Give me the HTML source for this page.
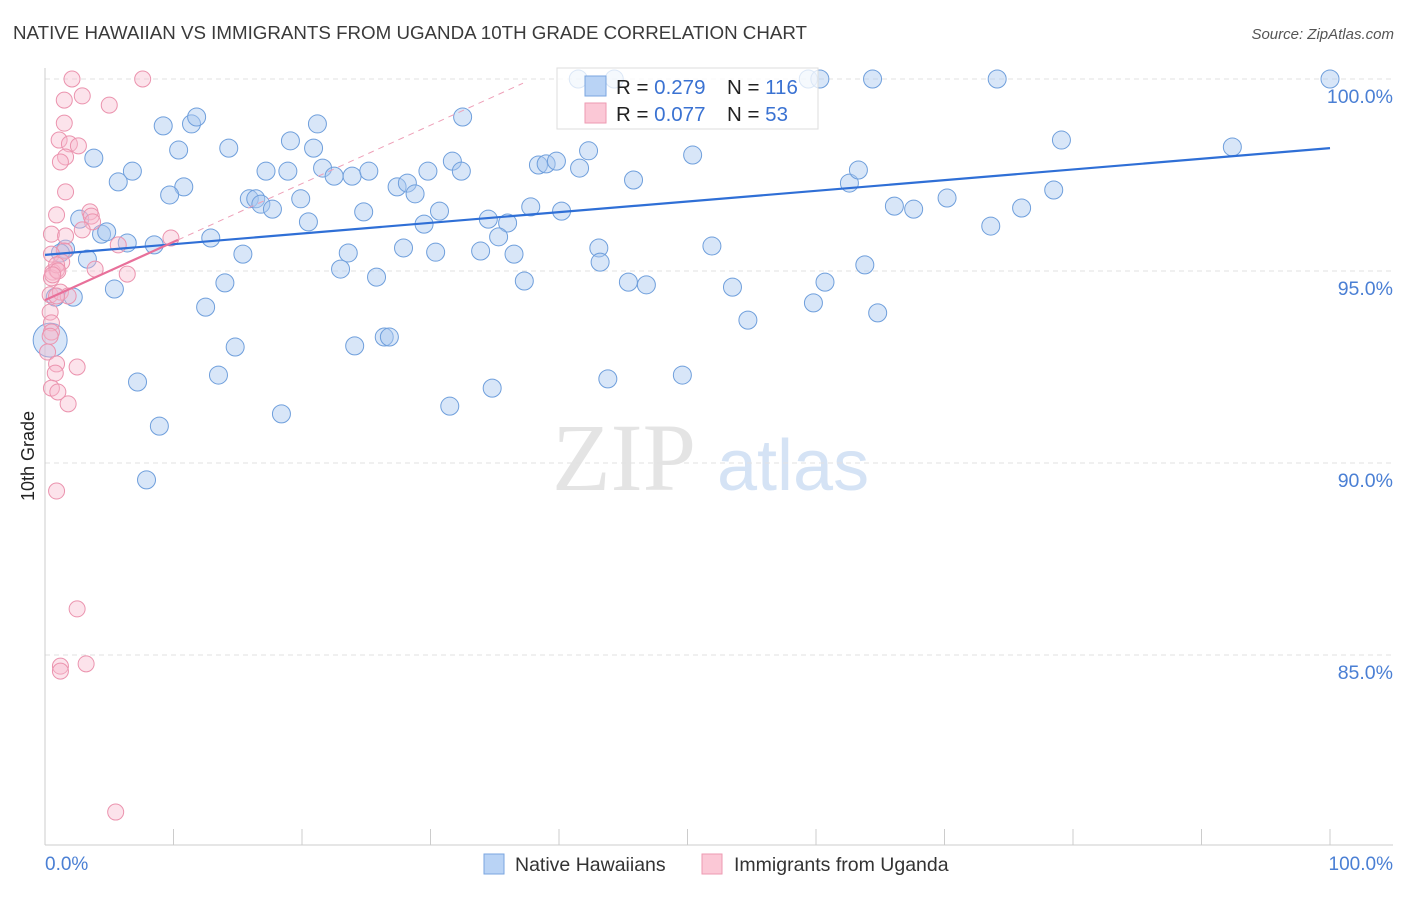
<!DOCTYPE html>
<html><head><meta charset="utf-8"><style>
body{margin:0;background:#fff;font-family:"Liberation Sans",sans-serif}
</style></head><body>
<svg id="chart" width="1406" height="892" xmlns="http://www.w3.org/2000/svg" style="font-family:'Liberation Sans',sans-serif">
<text x="13" y="39" font-size="18" fill="#3a3a3a" textLength="794" lengthAdjust="spacingAndGlyphs">NATIVE HAWAIIAN VS IMMIGRANTS FROM UGANDA 10TH GRADE CORRELATION CHART</text>
<text x="1394" y="39" font-size="15" fill="#555" font-style="italic" text-anchor="end">Source: ZipAtlas.com</text>
<g>
<text x="552" y="490" font-size="96" fill="#e4e4e4" font-family="'Liberation Serif',serif">ZIP</text>
<text x="717" y="490" font-size="72" fill="#d5e3f5">atlas</text>
</g>
<g id="grid"></g>
<g id="axes"></g>
<g id="pts"></g>
<g id="trend"></g>
<g>
<rect x="557" y="68" width="261" height="61" fill="#fff" fill-opacity="0.75" stroke="#ddd"/>
<rect x="585" y="76" width="21" height="20" fill="#b9d3f5" stroke="#7aa6e0"/>
<text x="616" y="94" font-size="20.5" fill="#222">R = <tspan fill="#3a72d2">0.279</tspan></text>
<text x="727" y="94" font-size="20.5" fill="#222">N = <tspan fill="#3a72d2">116</tspan></text>
<rect x="585" y="103" width="21" height="20" fill="#fbc8d6" stroke="#ee9ab2"/>
<text x="616" y="121" font-size="20.5" fill="#222">R = <tspan fill="#3a72d2">0.077</tspan></text>
<text x="727" y="121" font-size="20.5" fill="#222">N = <tspan fill="#3a72d2"> 53</tspan></text>
</g>
<g>
<rect x="484" y="854" width="20" height="20" fill="#b9d3f5" stroke="#7aa6e0"/>
<text x="515" y="871" font-size="19.5" fill="#333">Native Hawaiians</text>
<rect x="702" y="854" width="20" height="20" fill="#fbc8d6" stroke="#ee9ab2"/>
<text x="734" y="871" font-size="19.5" fill="#333">Immigrants from Uganda</text>
</g>
<text transform="translate(34,456) rotate(-90)" font-size="18" fill="#222" text-anchor="middle">10th Grade</text>
</svg>
<script>
const blueX=[41.5,44.3,59.4,60.3,64.4,74.1,100,9.2,11.4,11.8,32.5,21.2,3.8,10.4,14.3,19.1,20.9,79.1,92.4,42.3,50.4,6.8,5.7,10.8,9.7,17.2,18.9,21.6,22.5,23.9,25.2,27.4,28.2,28.8,29.8,31.7,32.4,38.4,39.0,39.8,41.6,45.8,62.6,63.3,78.5,15.9,16.4,16.8,17.7,19.9,20.5,24.8,29.5,30.7,34.5,36.0,37.8,40.2,66.1,67.6,70.2,73.6,76.0,2.7,4.4,4.8,6.4,8.5,12.9,15.4,35.3,23.6,27.9,30.4,33.9,36.5,43.1,51.9,1.6,1.2,3.3,23.0,25.8,43.2,63.8,14.0,5.4,0.8,2.2,12.5,37.3,45.4,46.8,53.5,60.7,59.8,54.7,64.8,14.8,24.1,26.4,26.8,7.2,13.5,34.8,43.8,49.6,18.4,31.5,8.9,7.9];
const blueY=[100,100,100,100,100,100,100,98.78,98.83,99.01,99.01,98.83,97.94,98.15,98.2,98.39,98.2,98.41,98.23,98.13,98.02,97.6,97.32,97.19,96.98,97.6,97.6,97.68,97.47,97.47,97.6,97.19,97.29,97.01,97.6,97.86,97.6,97.76,97.79,97.86,97.68,97.37,97.29,97.63,97.11,96.88,96.88,96.74,96.61,96.88,96.28,96.54,96.22,96.56,96.35,96.25,96.67,96.56,96.69,96.61,96.9,96.17,96.64,96.35,95.96,96.02,95.73,95.68,95.86,95.44,95.89,95.47,95.6,95.49,95.52,95.44,95.6,95.65,95.57,95.47,95.31,95.05,94.84,95.23,95.16,94.69,94.53,94.32,94.32,94.06,94.74,94.71,94.64,94.58,94.71,94.17,93.72,93.91,93.02,93.05,93.28,93.28,92.11,92.29,91.95,92.19,92.29,91.28,91.48,90.96,89.56];
const pinkX=[2.1,7.6,2.9,1.5,5.0,1.5,1.1,1.9,2.6,1.6,1.2,1.6,0.9,3.5,3.6,3.7,2.9,0.5,1.6,5.7,1.5,0.5,1.3,0.9,0.6,3.9,6.4,0.5,0.4,1.2,1.8,0.4,0.5,0.5,0.2,0.9,0.8,2.5,0.5,1.0,1.8,0.9,2.5,1.2,3.2,1.2,5.5,9.8,0.9,0.9,1.0,0.6,0.4];
const pinkY=[100,100,99.56,99.45,99.32,98.85,98.41,98.31,98.26,97.97,97.84,97.06,96.46,96.54,96.43,96.28,96.07,95.96,95.91,95.68,95.52,95.44,95.23,95.03,94.97,95.05,94.92,94.82,94.38,94.45,94.35,93.93,93.65,93.41,92.89,92.58,92.34,92.5,91.95,91.85,91.54,89.27,86.2,84.71,84.77,84.58,80.91,95.86,95.16,94.35,95.0,94.9,93.3];
const blueTrend=[95.42,98.2];
const pinkTrend=[94.24,95.81,99.89];
const pinkTrendX=[0,10.35,37.2];
const yTicks=[100,95,90,85];
const yTickLabels=["100.0%","95.0%","90.0%","85.0%"];
const xTicks=[0,10,20,30,40,50,60,70,80,90,100];

const NS="http://www.w3.org/2000/svg";
const X=v=>45+v*12.85;
const Y=v=>79+(100-v)*38.4;
function mk(tag,attrs,parent){const e=document.createElementNS(NS,tag);for(const k in attrs)e.setAttribute(k,attrs[k]);parent.appendChild(e);return e;}
const grid=document.getElementById('grid'),axes=document.getElementById('axes'),pts=document.getElementById('pts'),trend=document.getElementById('trend');
yTicks.forEach((t,i)=>{
  const l=mk('line',{x1:45,x2:1393,y1:Y(t),y2:Y(t),stroke:'#e2e2e2','stroke-dasharray':'5,4'},grid);
  
  
  const tx=mk('text',{x:1393,y:Y(t)+24,'font-size':19.5,fill:'#4a7fd4','text-anchor':'end'},axes);
  tx.textContent=yTickLabels[i];
  
  
});
const ax=mk('line',{x1:45,x2:45,y1:68,y2:845,stroke:'#ccc'},axes);


const bx=mk('line',{x1:45,x2:1393,y1:845,y2:845,stroke:'#ccc'},axes);


xTicks.forEach(t=>{
  const l=mk('line',{x1:X(t),x2:X(t),y1:829,y2:845,stroke:'#ccc'},axes);
  
  
});
const xl0=mk('text',{x:45,y:870,'font-size':19,fill:'#4a7fd4'},axes);xl0.textContent='0.0%';


const xl1=mk('text',{x:1393,y:870,'font-size':19,fill:'#4a7fd4','text-anchor':'end'},axes);xl1.textContent='100.0%';



blueX.forEach((v,i)=>{
  const c=mk('circle',{cx:X(v),cy:Y(blueY[i]),r:9,fill:'#a9c8f0','fill-opacity':0.45,stroke:'#6f9fdc','stroke-width':1},pts);
  
  
});
const big=mk('circle',{cx:X(0.4),cy:Y(93.2),r:17,fill:'#a9c8f0','fill-opacity':0.45,stroke:'#6f9fdc'},pts);


pinkX.forEach((v,i)=>{
  const c=mk('circle',{cx:X(v),cy:Y(pinkY[i]),r:8,fill:'#f7b9cc','fill-opacity':0.4,stroke:'#eb93ae','stroke-width':1},pts);
  
  
});
const bt=mk('line',{x1:X(0),y1:Y(blueTrend[0]),x2:X(100),y2:Y(blueTrend[1]),stroke:'#2f6fd6','stroke-width':2.2},trend);


const pd=mk('line',{x1:X(pinkTrendX[1]),y1:Y(pinkTrend[1]),x2:X(pinkTrendX[2]),y2:Y(pinkTrend[2]),stroke:'#eea0b8','stroke-width':1,'stroke-dasharray':'6,5'},trend);


const pt=mk('line',{x1:X(pinkTrendX[0]),y1:Y(pinkTrend[0]),x2:X(pinkTrendX[1]),y2:Y(pinkTrend[1]),stroke:'#e8709a','stroke-width':2.2},trend);


</script>
</body></html>
